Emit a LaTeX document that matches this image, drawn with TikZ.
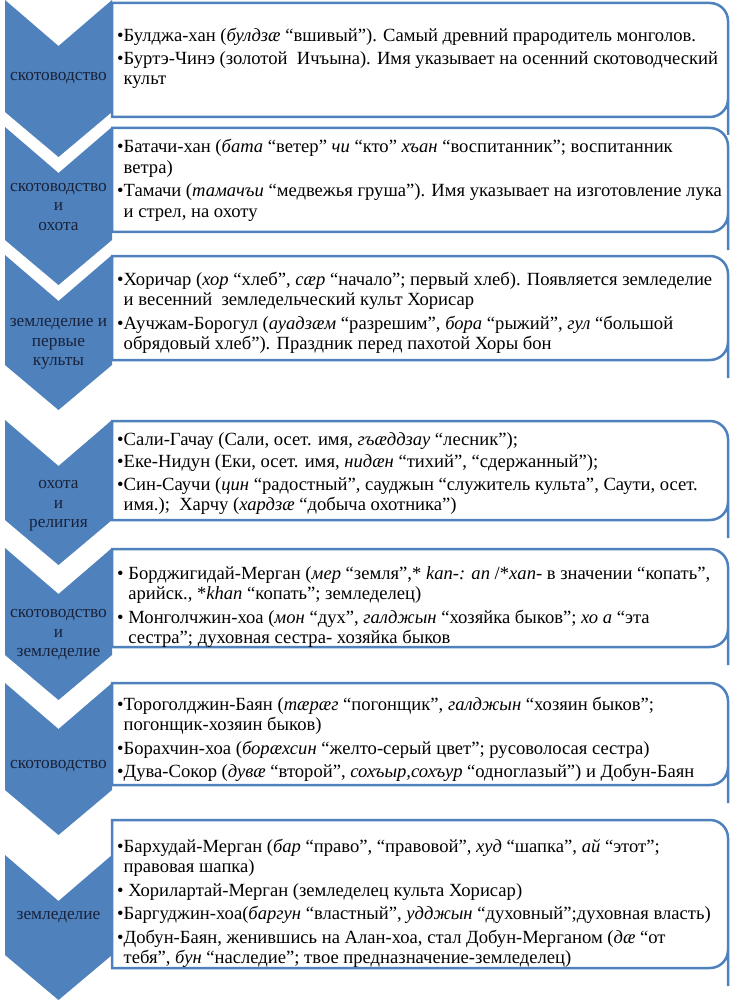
\documentclass[tikz,border=0pt]{standalone}
\usepackage{fontspec}
\setmainfont{Liberation Serif}
\definecolor{chev}{HTML}{4F81BD}
\definecolor{lab}{HTML}{18223A}
\tikzset{
  chevshape/.style={fill=chev, draw=none},
  boxframe/.style={draw=chev, line width=2.5pt, fill=white},
  boxtext/.style={anchor=base west, inner sep=0pt, font=\fontsize{18.6}{20.5}\selectfont, text=black},
  chevlabel/.style={align=center, inner sep=0pt, font=\fontsize{17.3}{19.5}\selectfont, text=lab}
}
\newcommand{\bl}{•}
\newcommand{\hind}{\phantom{•}}
% chevron: top corners y=#1, bottom corners y=#2 (pixels, downward)
\newcommand{\chevpath}[2]{\path[chevshape] (5,-#1) -- (58.5,-#1-46) -- (112,-#1) -- (112,-#2) -- (58.5,-#2-45) -- (5,-#2) -- cycle;}
% box frame: top y=#1, bottom y=#2
\newcommand{\boxpath}[2]{\path[boxframe] (112,-#1) -- (710,-#1) arc[start angle=90,end angle=0,radius=18] -- (728,-#2-18) -- (728,-#2+18) arc[start angle=0,end angle=-90,radius=18] -- (112,-#2) -- cycle;}
\begin{document}
\begin{tikzpicture}[x=1pt,y=1pt]
\useasboundingbox (0,0) rectangle (735,-1000);
% chevrons
\chevpath{0}{112}
\chevpath{127}{240}
\chevpath{255}{365}
\chevpath{420}{520}
\chevpath{548}{655}
\chevpath{683}{790}
\chevpath{855}{955}
% boxes
\boxpath{3}{117}
\boxpath{128}{232}
\boxpath{256}{360}
\boxpath{421}{520}
\boxpath{549}{647}
\boxpath{683}{785}
\boxpath{820}{968}
% chevron labels
\node[chevlabel] (l1) at (58.5,-78) {скотоводство};
\node[chevlabel] (l2) at (58.5,-207) {скотоводство\\и\\охота};
\node[chevlabel] (l3) at (58.5,-344) {земледелие и\\первые\\культы};
\node[chevlabel] (l4) at (58.5,-506) {охота\\и\\религия};
\node[chevlabel] (l5) at (58.5,-635) {скотоводство\\и\\земледелие};
\node[chevlabel] (l6) at (58.5,-766) {скотоводство};
\node[chevlabel] (l7) at (58.5,-917) {земледелие};
% box texts
\node[boxtext] (t1) at (117,-42) {\parbox[t]{615pt}{\raggedright
\bl Булджа-хан (\textit{булдзæ} “вшивый”). Самый древний прародитель монголов.\\[2pt]
\bl Буртэ-Чинэ (золотой\ \ Ичъына). Имя указывает на осенний скотоводческий\\
\hind культ}};
\node[boxtext] (t2) at (117,-153) {\parbox[t]{615pt}{\raggedright
\bl Батачи-хан (\textit{бата} “ветер” \textit{чи} “кто” \textit{хъан} “воспитанник”; воспитанник\\
\hind ветра)\\[3pt]
\bl Тамачи (\textit{тамачъи} “медвежья груша”). Имя указывает на изготовление лука\\
\hind и стрел, на охоту}};
\node[boxtext] (t3) at (117,-285) {\parbox[t]{615pt}{\raggedright
\bl Хоричар (\textit{хор} “хлеб”, \textit{сæр} “начало”; первый хлеб). Появляется земледелие\\
\hind и весенний\ \ земледельческий культ Хорисар\\[3pt]
\bl Аучжам-Борогул (\textit{ауадзæм} “разрешим”, \textit{бора} “рыжий”, \textit{гул} “большой\\
\hind обрядовый хлеб”). Праздник перед пахотой Хоры бон}};
\node[boxtext] (t4) at (117,-445) {\parbox[t]{615pt}{\raggedright
\bl Сали-Гачау (Сали, осет. имя, \textit{гъæддзау} “лесник”);\\[2pt]
\bl Еке-Нидун (Еки, осет. имя, \textit{нидæн} “тихий”, “сдержанный”);\\[2pt]
\bl Син-Саучи (\textit{цин} “радостный”, сауджын “служитель культа”, Саути, осет.\\
\hind имя.);\ \ Харчу (\textit{хардзæ} “добыча охотника”)}};
\node[boxtext] (t5) at (117,-579) {\parbox[t]{615pt}{\raggedright
\bl\ Борджигидай-Мерган (\textit{мер} “земля”,* \textit{kan-: an} /*\textit{xan-} в значении “копать”,\\
\hind\ арийск., *\textit{khan} “копать”; земледелец)\\[3pt]
\bl\ Монголчжин-хоа (\textit{мон} “дух”, \textit{галджын} “хозяйка быков”; \textit{хо а} “эта\\
\hind\ сестра”; духовная сестра- хозяйка быков}};
\node[boxtext] (t6) at (117,-710) {\parbox[t]{615pt}{\raggedright
\bl Торогол­джин-Баян (\textit{тæрæг} “погонщик”, \textit{галджын} “хозяин быков”;\\
\hind погонщик-хозяин быков)\\[3pt]
\bl Борахчин-хоа (\textit{борæхсин} “желто-серый цвет”; русоволосая сестра)\\[3pt]
\bl Дува-Сокор (\textit{дувæ} “второй”, \textit{сохъыр,сохъур} “одноглазый”) и Добун-Баян}};
\node[boxtext] (t7) at (117,-852) {\parbox[t]{615pt}{\raggedright
\bl Бархудай-Мерган (\textit{бар} “право”, “правовой”, \textit{худ} “шапка”, \textit{ай} “этот”;\\
\hind правовая шапка)\\[3pt]
\bl\ Хорилартай-Мерган (земледелец культа Хорисар)\\[3pt]
\bl Баргуджин-хоа(\textit{баргун} “властный”, \textit{удджын} “духовный”;духовная власть)\\[3pt]
\bl Добун-Баян, женившись на Алан-хоа, стал Добун-Мерганом (\textit{дæ} “от\\
\hind тебя”, \textit{бун} “наследие”; твое предназначение-земледелец)}};
\end{tikzpicture}
\end{document}
